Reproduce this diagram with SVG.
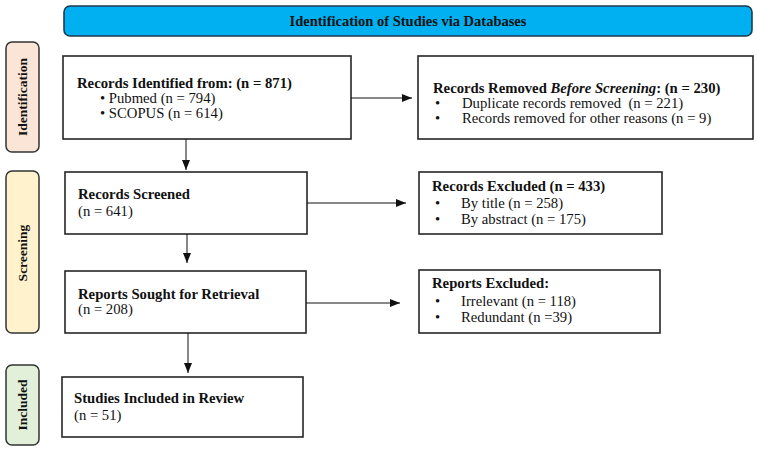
<svg xmlns="http://www.w3.org/2000/svg" width="757" height="451" viewBox="0 0 757 451">
<style>
.box{fill:#fff;stroke:#262626;stroke-width:1.6}
.lab{stroke:#333;stroke-width:1.5}
text{font-family:"Liberation Serif","Times New Roman",serif;font-size:14.7px;fill:#111}
.b{font-weight:bold}
.vl{font-weight:bold;font-size:13.5px;text-anchor:middle}
.conn line{stroke:#111;stroke-width:1;marker-end:url(#ah)}
</style>
<defs>
<marker id="ah" markerWidth="10" markerHeight="8" refX="10" refY="4" orient="auto" markerUnits="userSpaceOnUse">
<path d="M0,0 L10,4 L0,8 Z" fill="#111"/>
</marker>
</defs>
<rect width="757" height="451" fill="#fff"/>
<g id="header">
<rect x="64" y="6" width="688" height="30" rx="6" fill="#00B0F0" stroke="#1E3A52" stroke-width="1.6"/>
<text x="408" y="26" class="b" text-anchor="middle" style="font-size:14.5px">Identification of Studies via Databases</text>
</g>
<g id="phase-identification">
<rect class="lab" x="6" y="42" width="33" height="110" rx="6" fill="#FBE5D6"/>
<text class="vl" transform="translate(27,97) rotate(-90)">Identification</text>
</g>
<g id="phase-screening">
<rect class="lab" x="6" y="171" width="33" height="162" rx="6" fill="#FFF2CC"/>
<text class="vl" transform="translate(27,253) rotate(-90)">Screening</text>
</g>
<g id="phase-included">
<rect class="lab" x="6" y="365" width="33" height="80" rx="6" fill="#E2F0D9"/>
<text class="vl" transform="translate(27,405) rotate(-90)">Included</text>
</g>
<g id="records-identified">
<rect class="box" x="63" y="56" width="288" height="83"/>
<text x="77" y="88" class="b">Records Identified from: (n = 871)</text>
<text x="100" y="103">• Pubmed (n = 794)</text>
<text x="100" y="118">• SCOPUS (n = 614)</text>
</g>
<g id="records-removed">
<rect class="box" x="418" y="56" width="335" height="83"/>
<text x="433" y="93" class="b">Records Removed <tspan font-style="italic">Before Screening</tspan>: (n = 230)</text>
<text x="435" y="108">•</text><text x="462" y="108">Duplicate records removed&#160; (n = 221)</text>
<text x="435" y="123">•</text><text x="462" y="123">Records removed for other reasons (n = 9)</text>
</g>
<g id="records-screened">
<rect class="box" x="65" y="172" width="242" height="62"/>
<text x="78" y="199" class="b">Records Screened</text>
<text x="78" y="216">(n = 641)</text>
</g>
<g id="records-excluded">
<rect class="box" x="419" y="172" width="243" height="62"/>
<text x="432" y="191" class="b">Records Excluded (n = 433)</text>
<text x="435" y="208">•</text><text x="461" y="208">By title (n = 258)</text>
<text x="435" y="224">•</text><text x="461" y="224">By abstract (n = 175)</text>
</g>
<g id="reports-sought">
<rect class="box" x="65" y="271" width="241" height="62"/>
<text x="78" y="299" class="b">Reports Sought for Retrieval</text>
<text x="78" y="314">(n = 208)</text>
</g>
<g id="reports-excluded">
<rect class="box" x="419" y="270" width="241" height="63"/>
<text x="432" y="288" class="b">Reports Excluded:</text>
<text x="435" y="306">•</text><text x="461" y="306">Irrelevant (n = 118)</text>
<text x="435" y="322">•</text><text x="461" y="322">Redundant (n =39)</text>
</g>
<g id="studies-included">
<rect class="box" x="62" y="377" width="241" height="60"/>
<text x="74" y="403" class="b">Studies Included in Review</text>
<text x="74" y="420">(n = 51)</text>
</g>
<g id="connectors" class="conn">
<line x1="351" y1="98" x2="412" y2="98"/>
<line x1="186" y1="139" x2="186" y2="170"/>
<line x1="307" y1="203" x2="406" y2="203"/>
<line x1="187" y1="234" x2="187" y2="263"/>
<line x1="306" y1="303" x2="400" y2="303"/>
<line x1="188" y1="333" x2="188" y2="373"/>
</g>
</svg>
